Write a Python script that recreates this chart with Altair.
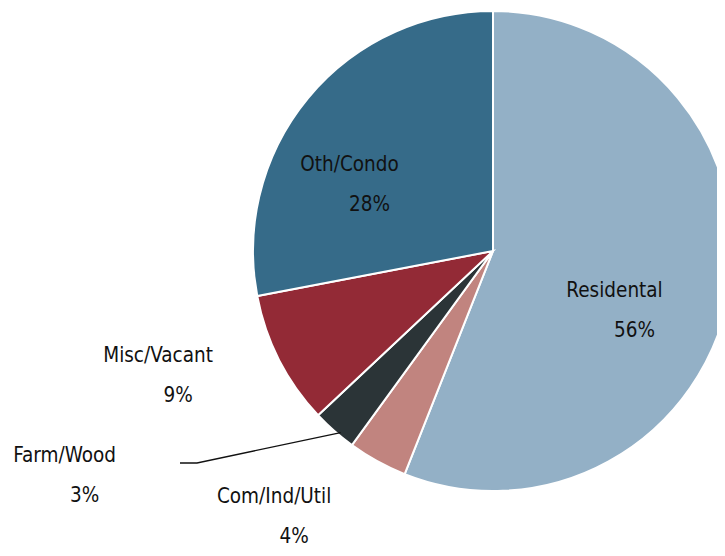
import math
import altair as alt
import pandas as pd

# ---- data ----
categories = ["Residental", "Com/Ind/Util", "Farm/Wood", "Misc/Vacant", "Oth/Condo"]
shares = [56, 4, 3, 9, 28]
pct_labels = ["56%", "4%", "3%", "9%", "28%"]
colors = ["#93B0C6", "#C1847F", "#2B3437", "#932A36", "#366B89"]

# ---- layout ----
W, H = 709, 540
CX, CY = 485, 243      # pie centre inside the plot area
R = 240                # pie radius
FONT = "DejaVu Sans Condensed, Liberation Sans Narrow, sans-serif"
# label placement: angle (deg clockwise from 12 o'clock) and radius from centre
label_angle = [108.3, 221.7, 244.4, 252.6, 300.8]
label_radius = [128, 329, 475, 351, 167]

df = pd.DataFrame({
    "idx": list(range(len(categories))),
    "category": categories,
    "share": shares,
    "pct": pct_labels,
    "lab_t": [math.radians(a) for a in label_angle],
    "lab_r": label_radius,
})

# leader line for Farm/Wood: from slice edge to an elbow left of the pie
end_deg, end_r = 220.0, 237
lx = CX + end_r * math.sin(math.radians(end_deg))
ly = CY - end_r * math.cos(math.radians(end_deg))
leader = pd.DataFrame({
    "o": [0, 1, 2],
    "x": [lx, 189, 172],
    "y": [ly, 455, 455],
})

base = alt.Chart(df)

pie = base.mark_arc(radius=R, stroke="white", strokeWidth=2).encode(
    theta=alt.Theta("share:Q", stack=True),
    color=alt.Color("category:N", scale=alt.Scale(domain=categories, range=colors), legend=None),
    order=alt.Order("idx:Q"),
    x=alt.value(CX),
    y=alt.value(CY),
)

names = base.mark_text(font=FONT, fontSize=20.5, color="#111111", align="center", baseline="middle").encode(
    theta=alt.Theta("lab_t:Q", scale=None, stack=False),
    radius=alt.Radius("lab_r:Q", scale=None),
    text="category:N",
    x=alt.value(CX),
    y=alt.value(CY),
)

pcts = base.mark_text(font=FONT, fontSize=20.5, color="#111111", align="center", baseline="middle",
                      dx=20, dy=40).encode(
    theta=alt.Theta("lab_t:Q", scale=None, stack=False),
    radius=alt.Radius("lab_r:Q", scale=None),
    text="pct:N",
    x=alt.value(CX),
    y=alt.value(CY),
)

line = alt.Chart(leader).mark_line(color="#111111", strokeWidth=1.3).encode(
    x=alt.X("x:Q", scale=None, axis=None),
    y=alt.Y("y:Q", scale=None, axis=None),
    order="o:Q",
)

chart = alt.layer(pie, line, names, pcts).resolve_scale(
    theta="independent", radius="independent"
).properties(
    width=W, height=H, padding=0, autosize=alt.AutoSizeParams(type="none"),
    background="white",
).configure_view(stroke=None)

chart.save("out.html", embed_options={"renderer": "svg", "actions": False})
